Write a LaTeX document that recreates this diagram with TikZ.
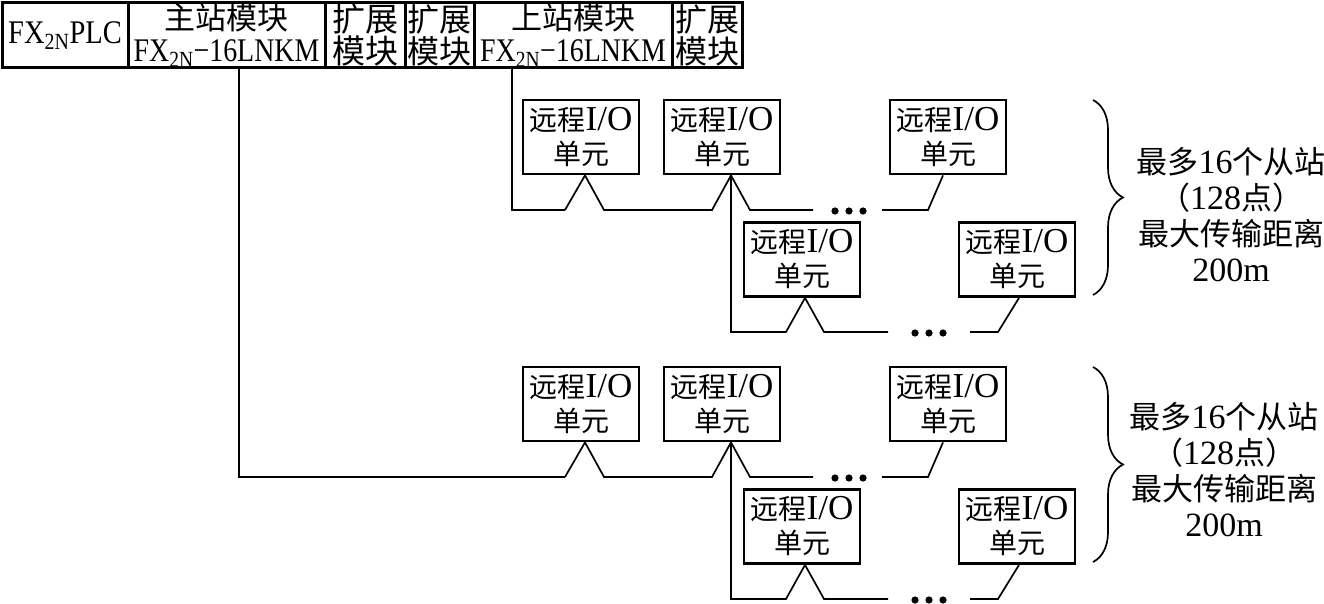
\documentclass[tikz,border=0pt]{standalone}
\usepackage{fontspec}
\usepackage{graphicx}
\setmainfont{Liberation Serif}
\newfontfamily\cjk{Noto Sans CJK SC}
\usetikzlibrary{decorations.pathreplacing,calc}
\newcommand\zh[2]{{\cjk\fontsize{#1}{#1}\selectfont #2}}
\newcommand\iotext{\zh{28}{远程}I/O\\\zh{28}{单元}}
\newcommand\fxname{\scalebox{0.93}[1.1]{FX\textsubscript{2N}−16LNKM}}
\tikzset{
  cell/.style={draw, line width=3pt, minimum height=65pt, inner sep=0pt, align=center, font=\fontsize{30}{32}\selectfont},
  iobox/.style={draw, line width=2.8pt, minimum width=116pt, minimum height=74pt, inner sep=0pt, align=center, font=\fontsize{35}{34}\selectfont},
  conn/.style={line width=1.7pt},
  dotm/.style={fill=black},
  brc/.style={decorate, decoration={brace, amplitude=30pt}, line width=1.7pt},
  lbl/.style={align=center, font=\fontsize{34}{36}\selectfont, inner sep=0pt}
}
\newcommand\iogroup[2]{%
\begin{scope}[shift={(0,#2)}]
  \node[iobox] (#1a1) at (581,137) {\iotext};
  \node[iobox] (#1a2) at (722,137) {\iotext};
  \node[iobox] (#1a3) at (948,137) {\iotext};
  \node[iobox] (#1b1) at (802,259.5) {\iotext};
  \node[iobox] (#1b2) at (1017,259.5) {\iotext};
  \coordinate (#1f) at (565,210);
  \coordinate (#1e1) at (813,210);
  \coordinate (#1e2) at (882,210);
  \coordinate (#1g) at (731,332);
  \coordinate (#1e3) at (888,332);
  \coordinate (#1e4) at (970,332);
  \draw[conn] (#1f) -- ([xshift=4pt]#1a1.south) -- (604,210) -- (712,210)
     -- ([xshift=9pt]#1a2.south) -- (750,210) -- (#1e1);
  \draw[conn] (#1e2) -- (928,210) -- ([xshift=-5pt]#1a3.south);
  \draw[conn] ([xshift=9pt]#1a2.south) -- (#1g) -- (786,332)
     -- ([xshift=3pt]#1b1.south) -- (824,332) -- (#1e3);
  \draw[conn] (#1e4) -- (998,332) -- ([xshift=2pt]#1b2.south);
  \foreach \x in {835,849,863} \fill[dotm] (\x,211) circle (3.6pt);
  \foreach \x in {915,929,943} \fill[dotm] (\x,333) circle (3.6pt);
\end{scope}}
\begin{document}
\begin{tikzpicture}[x=1pt,y=-1pt]
\useasboundingbox (0,0) rectangle (1324,604);
% top bar
\node[cell, minimum width=126pt] (plc) at (65,35.5) {\scalebox{0.95}[1.1]{FX\textsubscript{2N}PLC}};
\node[cell, minimum width=197pt] (main) at (226.5,35.5) {\zh{31}{主站模块}\\\fxname};
\node[cell, minimum width=80pt] (e1) at (365,35.5) {\zh{33}{扩展}\\\zh{33}{模块}};
\node[cell, minimum width=69pt] (e2) at (439.5,35.5) {\zh{32}{扩展}\\\zh{32}{模块}};
\node[cell, minimum width=198pt] (up) at (573,35.5) {\zh{31}{上站模块}\\\fxname};
\node[cell, minimum width=70pt] (e3) at (707,35.5) {\zh{32}{扩展}\\\zh{32}{模块}};
% groups
\iogroup{U}{0}
\iogroup{L}{267}
% feeders
\draw[conn] ([xshift=-61pt]up.south) |- (Uf);
\draw[conn] ([xshift=12.5pt]main.south) |- (Lf);
% braces
\coordinate (ub1) at (1093,100);
\coordinate (ub2) at (1093,295);
\coordinate (lb1) at (1093,367);
\coordinate (lb2) at (1093,562);
\draw[brc] (ub1) -- (ub2);
\draw[brc] (lb1) -- (lb2);
% labels
\node[lbl] (ut) at (1231,215) {\zh{31}{最多}16\zh{31}{个从站}\\\zh{31}{（}128\zh{31}{点）}\\\zh{31}{最大传输距离}\\200m};
\node[lbl] (lt) at (1224,470) {\zh{31}{最多}16\zh{31}{个从站}\\\zh{31}{（}128\zh{31}{点）}\\\zh{31}{最大传输距离}\\200m};
\end{tikzpicture}
\end{document}
